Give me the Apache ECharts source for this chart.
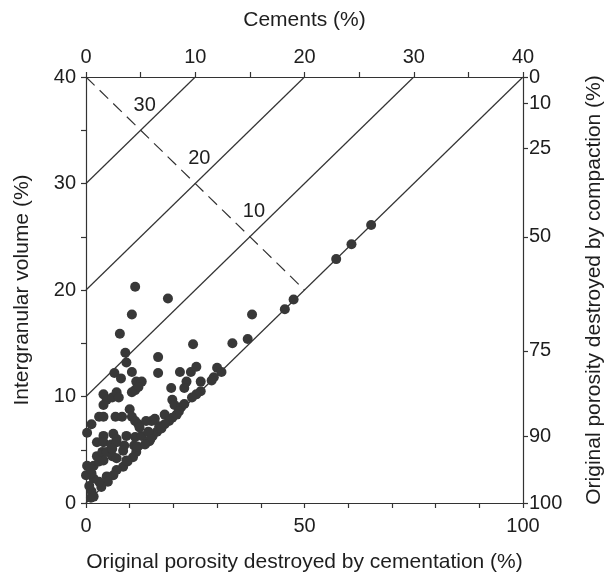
<!DOCTYPE html>
<html>
<head>
<meta charset="utf-8">
<script src="https://cdn.jsdelivr.net/npm/echarts@6/dist/echarts.min.js"></script>
<style>html,body{margin:0;padding:0;background:#fff;}#chart{width:613px;height:578px;}</style>
</head>
<body>
<div id="chart"></div>
<script>
// ---- data ----
const cements = [26.1,24.3,22.9,19.0,18.2,15.2,13.4,14.8,4.5,7.5,4.2,3.1,9.8,3.6,3.7,6.6,2.6,3.2,4.2,6.6,8.6,9.6,10.1,12.0,12.4,11.7,11.5,10.5,10.5,4.6,5.1,9.2,
  4.5,4.8,4.2,7.8,9.0,10.1,9.7,1.6,1.9,2.4,2.8,3.0,1.6,7.9,8.1,8.7,9.0,8.5,8.3,7.9,7.2,7.6,7.2,6.7,6.3,6.0,6.5,6.1,6.9,5.8,4.0,
  1.2,1.6,2.7,3.3,4.2,4.5,4.8,5.5,0.5,0.1,1.6,2.5,2.8,3.7,4.5,5.1,5.7,5.9,1.0,1.6,2.3,2.8,3.5,4.4,4.6,4.3,3.8,3.4,2.8,2.5,1.9,2.0,1.4,1.2,0.7,0.5,0.1,0.7,1.2,1.6,1.0,1.5,1.9,2.4,2.8,0.5,0.45,0.7,0.3,0.0,3.4,4.7,5.4,3.7,2.4,4.9,0.4];
const igv = [26.1,24.3,22.9,19.1,18.2,17.7,15.0,15.4,20.3,19.2,17.7,15.9,14.9,14.1,13.2,13.7,12.2,11.7,12.3,12.2,12.3,12.3,12.8,12.7,12.3,11.8,11.5,11.4,10.5,11.4,11.4,11.4,
  10.6,10.9,10.4,10.8,10.8,10.2,9.9,10.2,9.7,9.9,10.4,9.9,9.2,9.7,9.2,9.0,9.3,8.6,8.3,8.0,8.3,7.7,7.4,7.2,7.9,7.7,6.7,6.3,7.0,5.8,8.8,
  8.1,8.1,8.1,8.1,8.1,7.7,7.4,7.7,7.4,6.6,6.3,6.5,6.0,6.3,6.2,6.3,6.7,6.0,5.7,5.7,5.5,5.7,5.4,5.4,4.8,4.3,3.9,3.4,3.1,2.6,2.5,2.0,1.5,2.0,2.3,2.8,3.5,3.5,3.9,4.0,4.4,4.8,4.8,4.4,4.2,1.1,0.5,0.6,1.6,2.6,4.9,5.3,5.5,4.0,5.1,7.1,3.2];
const cementTicks = [0,5,10,15,20,25,30,35,40];
const cementLabels = [0,10,20,30,40];
const igvTicks = [0,5,10,15,20,25,30,35,40];
const igvLabels = [0,10,20,30,40];
const cementationTicks = [0,10,20,30,40,50,60,70,80,90,100];
const cementationLabels = [0,50,100];
const compactionLabels = [0,10,25,50,75,90,100];
const porosityLines = [0,10,20,30];
const porosityLabels = [30,20,10];
const originalPorosity = 40;

// ---- derived ----
const cemPos = p => p * originalPorosity / 100;
const compPos = p => { const c = originalPorosity * p / 100; return 100 * (originalPorosity - c) / (100 - c); };
const compVals = compactionLabels.map(compPos);

const font = 'Liberation Sans, Arial, sans-serif';
const axisCol = '#333';
const txt = '#1e1e1e';
const FS = 20;   // tick labels
const NFS = 21;  // axis titles
const base = {
  min: 0, max: 40, type: 'value',
  splitLine: {show: false},
  axisLine: {show: true, onZero: false, lineStyle: {color: axisCol, width: 1.2}},
  axisTick: {show: true, length: 5, lineStyle: {color: axisCol, width: 1.2}},
  axisLabel: {color: txt, fontSize: FS, fontFamily: font},
  nameTextStyle: {color: txt, fontSize: NFS, fontFamily: font},
  nameLocation: 'middle'
};

const chart = echarts.init(document.getElementById('chart'), null, {renderer: 'canvas'});
const series = [];
porosityLines.forEach(k => {
  series.push({type: 'line', xAxisIndex: 0, yAxisIndex: 0, data: [[0, k], [40 - k, 40]], symbol: 'none',
    lineStyle: {color: '#333', width: 1.2}, silent: true, z: 1});
});
series.push({type: 'line', xAxisIndex: 0, yAxisIndex: 0, data: [[0, 40], [20, 20]], symbol: 'none',
  lineStyle: {color: '#333', width: 1.2, type: [12, 7]}, silent: true, z: 1});
series.push({type: 'scatter', xAxisIndex: 0, yAxisIndex: 0, symbolSize: 0.1,
  itemStyle: {color: txt, opacity: 1},
  data: porosityLabels.map(k => ({value: [(40 - k) / 2, (40 + k) / 2], name: String(k)})),
  label: {show: true, position: 'inside', offset: [4, -25], formatter: p => p.name, color: txt, opacity: 1, fontSize: FS, fontFamily: font},
  silent: true, z: 3});
series.push({type: 'scatter', xAxisIndex: 0, yAxisIndex: 0, symbol: 'circle', symbolSize: 10,
  itemStyle: {color: '#383838', opacity: 1},
  data: cements.map((c, i) => [c, igv[i]]), z: 5});

chart.setOption({
  animation: false,
  backgroundColor: '#fff',
  grid: {left: 86, right: 87, top: 77, bottom: 68, containLabel: false},
  xAxis: [
    Object.assign({}, base, {
      position: 'bottom', name: 'Original porosity destroyed by cementation (%)', nameGap: 49,
      axisTick: Object.assign({}, base.axisTick, {customValues: cementationTicks.map(cemPos)}),
      axisLabel: Object.assign({}, base.axisLabel, {margin: 13, customValues: cementationLabels.map(cemPos),
        formatter: v => String(Math.round(v * 100 / originalPorosity))})
    }),
    Object.assign({}, base, {
      position: 'top', name: 'Cements (%)', nameGap: 46,
      axisTick: Object.assign({}, base.axisTick, {customValues: cementTicks}),
      axisLabel: Object.assign({}, base.axisLabel, {margin: 10, customValues: cementLabels})
    })
  ],
  yAxis: [
    Object.assign({}, base, {
      position: 'left', name: 'Intergranular volume (%)', nameGap: 53,
      axisTick: Object.assign({}, base.axisTick, {customValues: igvTicks}),
      axisLabel: Object.assign({}, base.axisLabel, {margin: 10, customValues: igvLabels})
    }),
    Object.assign({}, base, {
      position: 'right', name: 'Original porosity destroyed by compaction (%)', nameGap: 61,
      axisTick: Object.assign({}, base.axisTick, {customValues: compVals}),
      axisLabel: Object.assign({}, base.axisLabel, {margin: 6, customValues: compVals,
        formatter: v => { let best = 0, d = 1e9; compVals.forEach((cv, i) => { if (Math.abs(cv - v) < d) { d = Math.abs(cv - v); best = i; } }); return String(compactionLabels[best]); }})
    })
  ],
  series: series
});
</script>
</body>
</html>
